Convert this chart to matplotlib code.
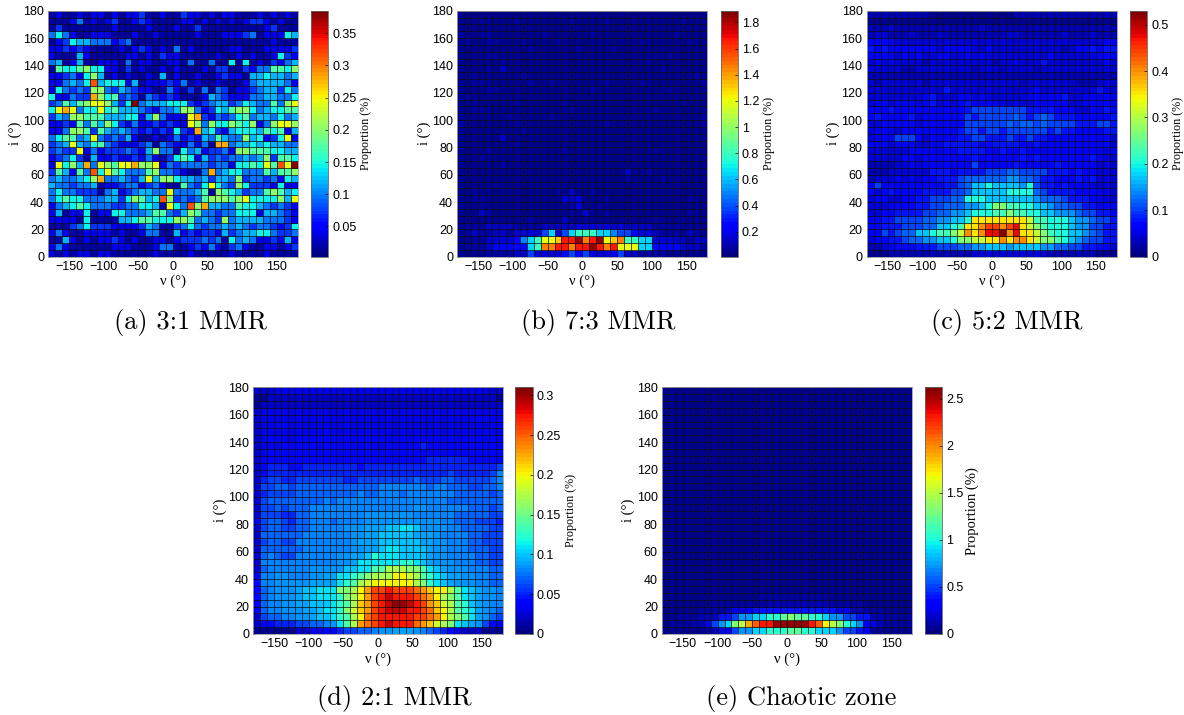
import numpy as np
import matplotlib
matplotlib.use('Agg')
from matplotlib import pyplot as plt

# 36 x 36 cells, top row (i = 175) first, one character per cell, each
# character is an index into the level list of the panel
levels_a = [.015, .04, .07, .095, .12, .145, .175, .205, .245, .28, .315, .38]
rows_a = [
    "010010 110101 120010 021101 011000 101010",
    "000130 101200 121000 011010 101012 210100",
    "020000 000100 001000 100200 000000 012000",
    "353100 111000 100100 000100 011123 011154",
    "012544 333123 000000 000000 000000 001000",
    "112121 000010 121010 301000 001100 011112",
    "100041 000001 101021 100000 100101 001521",
    "340140 011103 011001 103003 005050 102134",
    "065567 551102 010010 100010 220021 336657",
    "112315 740101 001040 100100 121104 454434",
    "113435 a45551 401112 130100 100013 444431",
    "153232 773243 211003 102030 320112 344253",
    "511322 975623 203212 100014 321113 344335",
    "236467 887425 b34445 552123 442354 336378",
    "589835 585644 432133 477312 546775 345566",
    "243776 664445 514731 118921 323563 443534",
    "112163 647521 311212 118737 557657 137887",
    "113776 264343 212121 521945 214555 465614",
    "356634 832324 100101 312143 643374 512581",
    "234843 563211 123032 113130 993445 454433",
    "232281 312223 214733 053412 231776 665544",
    "123520 411211 213102 565142 323343 472665",
    "185749 387688 977813 233332 331556 586a8b",
    "264163 a58653 336733 210039 345533 364667",
    "343345 793343 248477 544342 443723 323154",
    "433233 401123 312310 063258 532752 221511",
    "353322 203412 344338 333460 765423 367645",
    "356553 334425 7645a7 232367 776785 555748",
    "134565 333223 355408 53a794 433655 432321",
    "140115 011553 334663 247633 233555 144321",
    "111105 000044 566555 776343 273444 433321",
    "000235 222111 124300 235323 343432 332125",
    "131001 111010 013300 412122 142344 553223",
    "004101 011210 100110 122232 305343 112141",
    "131000 000111 000133 001213 102310 011012",
    "101011 011000 000100 001000 001000 010000",
]

levels_b = [.05, .08, .13, .18, .27, .38, .5, .65, .8, 1.0, 1.2, 1.33, 1.47, 1.68, 1.85]
rows_b = [
    "000000 000000 000000 000000 000000 000000",
    "000100 001000 000010 000100 000000 001000",
    "000000 000000 000000 000000 000000 000000",
    "100110 000000 100000 010000 000000 010000",
    "010011 000100 001000 000000 001000 000100",
    "000000 000010 000001 000010 000000 000000",
    "000011 000000 000000 000000 000010 100000",
    "000000 100000 000000 000000 000100 000000",
    "000010 200000 000000 000000 000001 000000",
    "001000 000100 000000 000000 000000 000010",
    "001100 000010 010000 000100 001000 000001",
    "000011 000000 000000 010000 000000 100000",
    "010000 000000 000000 000000 000000 000000",
    "001000 001000 000100 000000 000000 001000",
    "001100 000000 000010 000000 000010 000000",
    "000000 010000 010000 000000 000000 000001",
    "100000 001000 000000 000100 000000 000001",
    "000000 000100 000000 000000 000000 000000",
    "000000 200000 000000 000000 000000 000000",
    "000000 001000 000000 000000 000000 000000",
    "000010 000000 000100 000000 000010 000000",
    "000100 000000 000000 000000 000000 000000",
    "000000 100000 000000 000000 000000 000000",
    "000000 000000 000000 000000 200100 000000",
    "000000 000000 000000 000000 100001 000000",
    "000001 000000 000000 000000 000000 000000",
    "001000 000000 001020 010000 000000 000000",
    "001100 000000 000323 000100 000000 000100",
    "000100 000000 000013 001000 000000 000000",
    "000210 000000 000010 300100 000000 000100",
    "000000 000010 000200 100000 000010 001000",
    "011122 221111 222223 333333 222211 111100",
    "012112 212333 572578 887765 543321 110210",
    "001123 334678 aabdde cdeabc 887733 322122",
    "011124 444478 ccddcd dedcda aa7744 443221",
    "000011 112253 333454 533345 221111 000000",
]

levels_c = [.01, .025, .042, .06, .08, .1, .12, .145, .17, .2, .23, .27, .31, .35, .4, .44, .48, .525]
rows_c = [
    "111111 111000 000000 000111 111111 111111",
    "000000 000000 000000 000000 000000 000000",
    "111211 111111 111121 111111 111111 111111",
    "122111 211121 111111 112211 111121 112111",
    "333322 222222 222222 222222 222222 222233",
    "434333 333323 333223 222222 222212 334344",
    "333323 232233 223232 222222 223222 222333",
    "232322 221222 222222 122322 242222 222232",
    "222221 122222 222122 212222 122222 222222",
    "111111 111111 111111 111111 111111 111111",
    "212222 221222 222222 222212 222222 111222",
    "222222 222224 222222 222222 322222 222422",
    "222222 223422 233232 222223 333342 233333",
    "233233 323423 234333 322322 333332 233333",
    "333433 333333 334555 555554 444333 223343",
    "343333 423333 335455 555654 565444 333334",
    "223333 323333 335555 556566 565555 444554",
    "233323 333333 345545 545555 554544 333344",
    "233355 532333 344554 445445 443333 333332",
    "333233 322334 444433 444433 433333 333332",
    "222222 333333 344443 343343 333333 333323",
    "222223 323333 333433 333343 433333 334322",
    "111122 323333 333533 333433 333433 333222",
    "111222 222444 344445 556655 554443 433222",
    "122232 323344 456666 667766 544333 434222",
    "353333 333334 456889 888879 544343 332222",
    "323433 334444 556888 889999 654444 333322",
    "233223 344555 669998 888888 766654 443322",
    "222333 344556 667789 bbaa99 887665 544333",
    "223344 445566 778999 aabaa9 988777 655443",
    "334455 556677 889ddd dddddc aa9998 776554",
    "334445 556688 9addef fefgdc ba9998 775544",
    "335456 6889aa bcedeg ghegdd cba998 876544",
    "233445 667788 9bbccd dedeed cbba98 765544",
    "112333 344455 566778 887888 877665 544332",
    "000111 111111 111222 222222 221111 111000",
]

levels_d = [.006, .02, .032, .04, .05, .06, .07, .08, .085, .09, .1, .11, .125, .14, .155,
            .17, .185, .2, .215, .23, .245, .26, .275, .29, .305]
rows_d = [
    "111222 222222 222222 222222 222222 222211",
    "001111 111111 111111 111111 111111 111110",
    "011111 111111 111111 111111 111111 111111",
    "122222 222222 222222 222222 222222 222222",
    "122222 222222 222222 222222 222222 223322",
    "122332 222222 232222 222222 222222 222222",
    "122222 222232 222222 222222 222222 222322",
    "123322 333333 333333 323333 333333 333332",
    "122233 333233 333232 233333 433333 333333",
    "123333 333333 333333 333333 333333 333333",
    "133333 333333 333333 333333 344444 433333",
    "134443 344444 444344 444444 444444 444445",
    "134444 444444 444444 444444 444454 444457",
    "145544 555555 544555 555556 555665 555567",
    "155665 666666 666666 777777 767766 655667",
    "145555 666666 666766 777677 777776 666656",
    "156666 666676 777777 777777 777766 666666",
    "155656 667777 777777 777778 877777 766656",
    "155544 667777 777788 888887 777776 666655",
    "256654 667776 777788 888888 888776 665554",
    "156655 667777 788899 9aabba 888877 666655",
    "166666 677777 778899 aaaaa9 998777 766555",
    "156655 777777 778999 aaaaaa 998877 766555",
    "166666 677777 778899 abbaaa a98877 766655",
    "167655 777777 8899ac bbbaaa a98877 776655",
    "177777 777777 889bbb bbbccb a98887 776655",
    "167777 778888 8aabbd dfffee dba988 877766",
    "277887 778899 bbcdef ffhhgf dcba99 887766",
    "377888 889999 bcdfgh hhhhhf ecba98 887766",
    "367888 9aabbb eefhjl lmlllk jihhfd ba9887",
    "367888 9aabbb cefhjl mnmmml kjhfed ba9887",
    "267788 99aaab cdfijl mnoonm ljigfd ca9877",
    "267788 899abb cegijl mnnnmm lkihfd cb9876",
    "156677 889aab cdfhkl mmmmml lkjhfe db9865",
    "133444 556678 bdfjkl mnmmmk jigfeb a98532",
    "000000 112233 455667 889998 765432 111000",
]

levels_e = [.06, .1, .16, .25, .38, .5, .7, .9, 1.05, 1.2, 1.35, 1.5, 1.7, 1.9, 2.1, 2.3, 2.55]
rows_e = ["000000 000000 000000 000000 000000 000000"] * 30 + [
    "000000 000000 001111 111111 000000 000000",
    "000000 011111 111222 222222 111110 000000",
    "000001 111233 344444 444444 433221 110000",
    "001112 224456 677889 a99887 665544 221111",
    "011122 3567ab deffgg gggfec ba8763 321111",
    "000000 123356 677888 998877 765543 100000",
]

captions = ["(a) 3:1 MMR", "(b) 7:3 MMR", "(c) 5:2 MMR", "(d) 2:1 MMR", "(e) Chaotic zone"]
x_ticks = [-150, -100, -50, 0, 50, 100, 150]
y_ticks = [0, 20, 40, 60, 80, 100, 120, 140, 160, 180]
cbar_ticks = [
    [.05, .1, .15, .2, .25, .3, .35],
    [.2, .4, .6, .8, 1, 1.2, 1.4, 1.6, 1.8],
    [0, .1, .2, .3, .4, .5],
    [0, .05, .1, .15, .2, .25, .3],
    [0, .5, 1, 1.5, 2, 2.5],
]
cbar_labels = [
    ["0.05", "0.1", "0.15", "0.2", "0.25", "0.3", "0.35"],
    ["0.2", "0.4", "0.6", "0.8", "1", "1.2", "1.4", "1.6", "1.8"],
    ["0", "0.1", "0.2", "0.3", "0.4", "0.5"],
    ["0", "0.05", "0.1", "0.15", "0.2", "0.25", "0.3"],
    ["0", "0.5", "1", "1.5", "2", "2.5"],
]
ranges = [(.003, .385), (.01, 1.89), (0, .53), (0, .31), (0, 2.62)]
cbar_label_sizes = [8.7, 8.7, 8.7, 8.7, 10.5]
cbar_label_pads = [2.5, 2.5, 2.5, 2.5, 1.5]

W, H = 1184, 715
# left, right, cbar left, cbar right, top, bottom, caption centre x, caption y
boxes = [
    (48.3, 297.7, 310.7, 328, 10.7, 256.7, 190, 322),
    (457.3, 707.3, 720.7, 737.7, 10.7, 256.7, 598, 322),
    (866.7, 1116.7, 1130, 1147, 10.7, 256.7, 1007, 322),
    (253.3, 502.7, 515.3, 532.7, 387.3, 634, 394, 699),
    (662, 912, 924.7, 942, 387.3, 634, 801, 699),
]


def decode(rows, levels):
    codes = [[int(c, 36) for c in r.replace(' ', '')] for r in rows]
    return np.array(levels)[np.array(codes)][::-1]


panels = [decode(rows_a, levels_a), decode(rows_b, levels_b), decode(rows_c, levels_c),
          decode(rows_d, levels_d), decode(rows_e, levels_e)]

sans = 'Liberation Sans'
serif = 'Liberation Serif'
fig = plt.figure(figsize=(W / 100, H / 100), dpi=100)
cmap = matplotlib.colormaps['jet'].resampled(64)
x_edges = np.arange(-180, 181, 10)
y_edges = np.arange(0, 181, 5)

for k in range(5):
    l, r, cl, cr, top, bot, cap_x, cap_y = boxes[k]
    ax = fig.add_axes([l / W, 1 - bot / H, (r - l) / W, (bot - top) / H])
    mesh = ax.pcolormesh(x_edges, y_edges, panels[k], cmap=cmap, vmin=ranges[k][0], vmax=ranges[k][1],
                         edgecolors=(0, 0, 0, .8), linewidth=.5, antialiased=True)
    ax.set_xlim(-180, 180)
    ax.set_ylim(0, 180)
    ax.set_xticks(x_ticks)
    ax.set_xticklabels([str(t).replace('-', '\u2212') for t in x_ticks], family=sans, fontsize=9)
    ax.set_yticks(y_ticks)
    ax.set_yticklabels([str(t) for t in y_ticks], family=sans, fontsize=9)
    ax.tick_params(direction='in', length=2, width=.5, pad=3)
    ax.set_xlabel('\u03bd (\u00b0)', family=serif, fontsize=10.5, labelpad=1.5)
    ax.set_ylabel('i (\u00b0)', family=serif, fontsize=10.5, labelpad=1)
    for s in ax.spines.values():
        s.set_color('#999999')
        s.set_linewidth(.6)

    cax = fig.add_axes([cl / W, 1 - bot / H, (cr - cl) / W, (bot - top) / H])
    cb = fig.colorbar(mesh, cax=cax)
    cb.set_ticks(cbar_ticks[k])
    cb.set_ticklabels(cbar_labels[k], family=sans, fontsize=9)
    cax.tick_params(direction='in', length=2, width=.5, pad=3)
    cb.outline.set_edgecolor('#666666')
    cb.outline.set_linewidth(.6)
    cb.set_label('Proportion (%)', family=serif, fontsize=cbar_label_sizes[k], labelpad=cbar_label_pads[k])

    fig.text(cap_x / W, 1 - cap_y / H, captions[k], family='cmr10', fontsize=19, ha='center', va='center')

fig.savefig('out.png', dpi=100)
